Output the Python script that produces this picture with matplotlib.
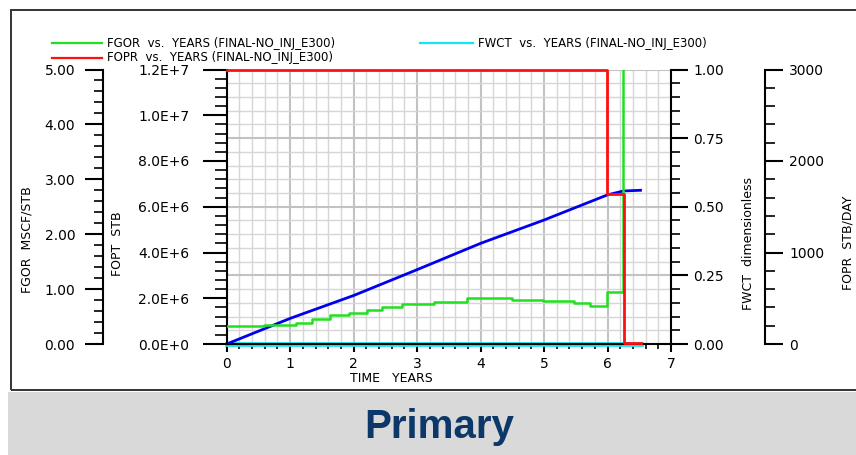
"""
Primary depletion run: FGOR, FOPT, FWCT and FOPR against time.

Run:
    python plot.py

Saves the figure to out.png.
"""

import matplotlib

matplotlib.use("Agg")

import matplotlib.pyplot as plt
import numpy as np
from matplotlib.lines import Line2D
from matplotlib.patches import Rectangle
from matplotlib.ticker import FormatStrFormatter, FuncFormatter, MultipleLocator


# Gas-oil ratio, MSCF/STB (step data, last steps run off the top of the scale).
FGOR_YEARS = [0.0, 0.58, 1.09, 1.35, 1.63, 1.93, 2.21, 2.45, 2.76, 3.26,
              3.79, 4.49, 4.99, 5.47, 5.73, 5.99, 6.24, 6.52]
FGOR_VALUES = [0.32, 0.35, 0.39, 0.45, 0.52, 0.57, 0.62, 0.68, 0.73, 0.77,
               0.83, 0.81, 0.78, 0.74, 0.70, 0.95, 40.0, 40.0]

# Cumulative oil production, STB.
FOPT_YEARS = [0.0, 1.0, 2.0, 3.0, 4.0, 5.0, 6.0, 6.25, 6.52]
FOPT_VALUES = [0.0, 1.12e6, 2.12e6, 3.25e6, 4.40e6, 5.42e6, 6.52e6, 6.69e6, 6.72e6]

# Oil production rate, STB/DAY (step data).
FOPR_YEARS = [0.0, 5.99, 6.26, 6.52]
FOPR_VALUES = [3000, 1636, 8, 8]

# Water cut, dimensionless.
FWCT_YEARS = [0.0, 6.52]
FWCT_VALUES = [0.0, 0.0]

CASE_NAME = "(FINAL-NO_INJ_E300)"
BANNER_TEXT = "Primary"

FIG_W, FIG_H = 856, 455
GREEN = "#20e020"
RED = "#ff1010"
BLUE = "#0000f0"
CYAN = "#10e8f0"
FONT = "DejaVu Sans"


def fx(px):
    return px / FIG_W


def fy(px):
    return 1 - px / FIG_H


def sci_label(value, _pos):
    """Eclipse-style labels: 1.2E+7, 0.0E+0."""
    if value == 0:
        return "0.0E+0"
    exp = int(np.floor(np.log10(abs(value)) + 1e-9))
    return f"{value / 10 ** exp:.1f}E+{exp}"


def only_spine(axis, name):
    for key, spine in axis.spines.items():
        spine.set_visible(key == name)
    axis.spines[name].set_linewidth(1.5)


def style_y(axis, side, major, minor, fmt, major_len, minor_len, pad):
    axis.yaxis.set_major_locator(MultipleLocator(major))
    axis.yaxis.set_minor_locator(MultipleLocator(minor))
    axis.yaxis.set_major_formatter(fmt)
    if side == "left":
        axis.yaxis.tick_left()
    else:
        axis.yaxis.tick_right()
    axis.tick_params(axis="y", which="major", direction="out", length=major_len,
                     width=1.5, pad=pad, labelsize=10)
    axis.tick_params(axis="y", which="minor", direction="out", length=minor_len,
                     width=1.2)


def build_figure():
    fig = plt.figure(figsize=(FIG_W / 100, FIG_H / 100), dpi=100)

    # outer frame and banner
    fig.add_artist(Rectangle((fx(11), fy(390)), 2, (390 - 10) / FIG_H,
                             transform=fig.transFigure, fill=False,
                             edgecolor="#333333", linewidth=1.4))
    fig.add_artist(Rectangle((fx(8), 0), 2, (FIG_H - 392) / FIG_H,
                             transform=fig.transFigure, facecolor="#d9d9d9",
                             edgecolor="none"))
    fig.text(fx(439), fy(438), BANNER_TEXT, ha="center", va="baseline",
             fontsize=29, fontweight="bold", color="#0b3868",
             family=["Liberation Sans", "DejaVu Sans"])

    left, right = 226.7, 671.0
    top, bottom = 69.5, 344.0
    ax = fig.add_axes([fx(left), fy(bottom), (right - left) / FIG_W,
                       (bottom - top) / FIG_H])

    ax_fopt = ax.twinx()
    ax_fgor = ax.twinx()
    ax_fopr = ax.twinx()

    # host: time axis, grid and FWCT on the right
    ax.set_xlim(0, 7)
    ax.set_ylim(0, 1)
    ax.xaxis.set_major_locator(MultipleLocator(1))
    ax.xaxis.set_minor_locator(MultipleLocator(0.2))
    ax.tick_params(axis="x", which="major", direction="out", length=6,
                   width=1.5, pad=3, labelsize=10)
    ax.tick_params(axis="x", which="minor", direction="out", length=3.5, width=1.2)
    style_y(ax, "right", 0.25, 0.05, FormatStrFormatter("%.2f"), 12.5, 6.5, 3.5)
    ax.spines["top"].set_visible(False)
    ax.spines["left"].set_visible(False)
    for key in ("bottom", "right"):
        ax.spines[key].set_linewidth(1.5)
    ax.grid(which="major", color="#c2c2c2", linewidth=1.5)
    ax.grid(which="minor", color="#d6d6d6", linewidth=1.0)
    ax.set_axisbelow(True)

    ax.plot(FWCT_YEARS, FWCT_VALUES, color=CYAN, linewidth=3.4, clip_on=False)

    # FOPT on the plot's left edge
    ax_fopt.set_ylim(0, 1.2e7)
    only_spine(ax_fopt, "left")
    style_y(ax_fopt, "left", 2e6, 4e5, FuncFormatter(sci_label), 17, 8.5, 10)
    ax_fopt.plot(FOPT_YEARS, FOPT_VALUES, color=BLUE, linewidth=2.0)

    # FGOR on an outer left axis
    ax_fgor.set_ylim(0, 5)
    only_spine(ax_fgor, "left")
    ax_fgor.spines["left"].set_position(("axes", (103 - left) / (right - left)))
    style_y(ax_fgor, "left", 1, 0.2, FormatStrFormatter("%.2f"), 13, 6.5, 7)
    ax_fgor.plot(FGOR_YEARS, FGOR_VALUES, color=GREEN, linewidth=1.8,
                 drawstyle="steps-post")

    # FOPR on an outer right axis
    ax_fopr.set_ylim(0, 3000)
    only_spine(ax_fopr, "right")
    ax_fopr.spines["right"].set_position(("axes", (765 - left) / (right - left)))
    style_y(ax_fopr, "right", 1000, 200, FormatStrFormatter("%d"), 13, 7, 4.5)
    ax_fopr.plot(FOPR_YEARS, FOPR_VALUES, color=RED, linewidth=2.0,
                 drawstyle="steps-post", clip_on=False)

    # axis titles
    label_kw = dict(fontsize=9, family=FONT, color="black")
    fig.text(fx(27.5), fy(240), "FGOR  MSCF/STB", rotation=90,
             ha="center", va="center", **label_kw)
    fig.text(fx(117.5), fy(244), "FOPT  STB", rotation=90,
             ha="center", va="center", **label_kw)
    fig.text(fx(749), fy(243), "FWCT  dimensionless", rotation=90,
             ha="center", va="center", **label_kw)
    fig.text(fx(848), fy(243), "FOPR  STB/DAY", rotation=90,
             ha="center", va="center", **label_kw)
    fig.text(fx(391), fy(378), "TIME   YEARS", ha="center", va="center",
             **label_kw)

    # legend, drawn by hand like the simulator plot
    entries = [
        (52, 102, 43, GREEN, "FGOR"),
        (52, 102, 58, RED, "FOPR"),
        (420, 473, 43, CYAN, "FWCT"),
    ]
    for x0, x1, y, color, name in entries:
        fig.add_artist(Line2D([fx(x0), fx(x1)], [fy(y), fy(y)],
                              transform=fig.transFigure, color=color,
                              linewidth=1.6))
        fig.text(fx(x1 + 5), fy(y), f"{name}  vs.  YEARS {CASE_NAME}",
                 ha="left", va="center", fontsize=8.5, family=FONT)

    return fig


def main():
    fig = build_figure()
    fig.savefig("out.png", dpi=100)
    plt.close(fig)


if __name__ == "__main__":
    main()
